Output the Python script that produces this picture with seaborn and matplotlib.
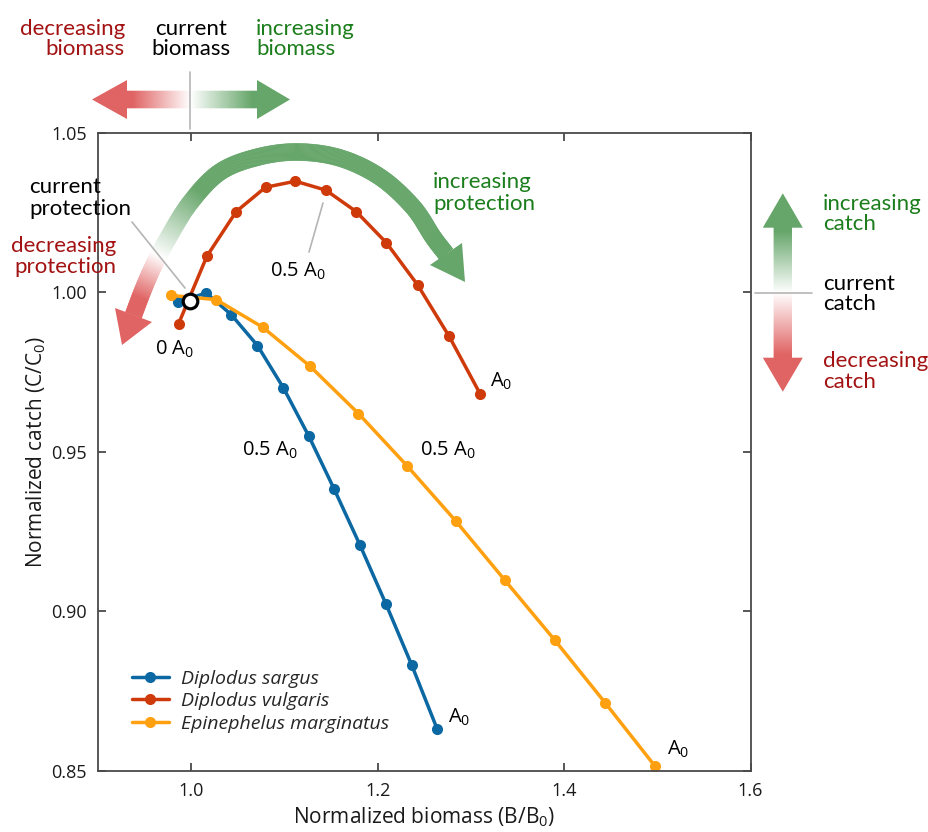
import numpy as np
import pandas as pd
import matplotlib
matplotlib.use("Agg")
import matplotlib.pyplot as plt
import seaborn as sns
from matplotlib.patches import Polygon
from matplotlib.collections import PolyCollection
from matplotlib.ticker import FormatStrFormatter

# ---------------- data ----------------
species = ["Diplodus sargus", "Diplodus vulgaris", "Epinephelus marginatus"]
palette = ["#0b68a2", "#cf3a0b", "#ffa010"]
protection = [0.0, 0.1, 0.2, 0.3, 0.4, 0.5, 0.6, 0.7, 0.8, 0.9, 1.0]

sargus_biomass = [0.9861, 1.0161, 1.0429, 1.0711, 1.0990, 1.1262, 1.1534, 1.1812, 1.2091, 1.2367, 1.2638]
sargus_catch = [0.9969, 0.9998, 0.9930, 0.9833, 0.9700, 0.9549, 0.9383, 0.9207, 0.9022, 0.8831, 0.8632]
vulgaris_biomass = [0.9864, 1.0168, 1.0483, 1.0797, 1.1118, 1.1444, 1.1769, 1.2094, 1.2429, 1.2767, 1.3099]
vulgaris_catch = [0.9901, 1.0113, 1.0253, 1.0329, 1.0348, 1.0320, 1.0253, 1.0155, 1.0023, 0.9862, 0.9682]
marginatus_biomass = [0.9788, 1.0268, 1.0769, 1.1276, 1.1794, 1.2313, 1.2839, 1.3367, 1.3903, 1.4440, 1.4976]
marginatus_catch = [0.9990, 0.9977, 0.9890, 0.9768, 0.9620, 0.9457, 0.9283, 0.9097, 0.8909, 0.8714, 0.8515]

current_biomass = [0.999]
current_catch = [0.9974]

x_ticks = [1.0, 1.2, 1.4, 1.6]
y_ticks = [0.85, 0.90, 0.95, 1.00, 1.05]

df = pd.DataFrame({
    "species": np.repeat(species, len(protection)),
    "protection": protection * 3,
    "biomass": sargus_biomass + vulgaris_biomass + marginatus_biomass,
    "catch": sargus_catch + vulgaris_catch + marginatus_catch,
})

# ---------------- style ----------------
sns.set_theme(style="ticks")
plt.rcParams["font.family"] = ["Open Sans", "DejaVu Sans"]
plt.rcParams["mathtext.fontset"] = "custom"
plt.rcParams["mathtext.rm"] = "Open Sans"
plt.rcParams["mathtext.it"] = "Open Sans:italic"
plt.rcParams["mathtext.bf"] = "Open Sans:bold"

W, H = 929, 832
fig = plt.figure(figsize=(W / 100, H / 100), dpi=100)
fig.patch.set_facecolor("white")

L, R, T, B = 98, 750.5, 132.7, 771
ax = fig.add_axes([L / W, 1 - B / H, (R - L) / W, (B - T) / H])

sns.lineplot(data=df, x="biomass", y="catch", hue="species", hue_order=species,
             palette=palette, sort=False, estimator=None, marker="o",
             markersize=8, markeredgewidth=0, linewidth=2.5, ax=ax)
ax.plot(current_biomass, current_catch, marker="o", markersize=10.5,
        markerfacecolor="white", markeredgecolor="black", markeredgewidth=2.3,
        linestyle="none", zorder=10)

ax.set_xlim(0.9, 1.6)
ax.set_ylim(0.85, 1.05)
ax.set_xticks(x_ticks)
ax.set_yticks(y_ticks)
ax.xaxis.set_major_formatter(FormatStrFormatter("%.1f"))
ax.yaxis.set_major_formatter(FormatStrFormatter("%.2f"))
spine_c = "#4a4a4a"
for s in ax.spines.values():
    s.set_visible(True)
    s.set_color(spine_c)
    s.set_linewidth(1.3)
ax.tick_params(direction="in", top=True, right=True, length=5.5, width=1.3,
               color=spine_c, labelcolor="#1a1a1a", labelsize=13, pad=8)
ax.set_xlabel("Normalized biomass (B/B$_0$)", fontsize=15, color="#1a1a1a", labelpad=4)
ax.set_ylabel("Normalized catch (C/C$_0$)", fontsize=15, color="#1a1a1a", labelpad=2)

handles, labels = ax.get_legend_handles_labels()
ax.legend(handles[:3], labels[:3], loc="upper left", bbox_to_anchor=(132 / W, 1 - 670 / H),
          bbox_transform=fig.transFigure, frameon=False, borderpad=0, borderaxespad=0,
          handlelength=1.9, handletextpad=0.62, labelspacing=0.22,
          prop={"family": "Open Sans", "style": "italic", "size": 14})

# ---------------- overlay (pixel coordinates) ----------------
ov = fig.add_axes([0, 0, 1, 1])
ov.set_xlim(0, W)
ov.set_ylim(H, 0)
ov.axis("off")
ov.patch.set_visible(False)

GREEN = np.array([102, 166, 106]) / 255.0
RED = np.array([224, 100, 100]) / 255.0
WHITE = np.ones(3)
TXT_GREEN = "#1b7d1b"
TXT_RED = "#a31212"
GRAY = "#b5b5b5"
ann_font = ["Lato", "DejaVu Sans"]
ann_size = 16


def txt(x, y, s, color="black", ha="left", size=ann_size, family=ann_font):
    ov.text(x, y, s, ha=ha, va="baseline", color=color, fontsize=size, family=family)


def grad_image(poly_pts, x0, x1, y0, y1, colfun, axis):
    poly = Polygon(poly_pts, closed=True, facecolor="none", edgecolor="none")
    ov.add_patch(poly)
    if axis == "x":
        xs = np.linspace(x0, x1, 400)
        img = np.array([colfun(v) for v in xs])[None, :, :]
    else:
        ys = np.linspace(y0, y1, 400)
        img = np.array([colfun(v) for v in ys])[:, None, :]
    im = ov.imshow(img, extent=(x0, x1, y1, y0), origin="upper", aspect="auto",
                   interpolation="bilinear")
    im.set_clip_path(poly)


def lerp(c1, c2, t):
    t = min(max(t, 0.0), 1.0)
    return c1 * (1 - t) + c2 * t


# top horizontal double arrow
cy = 99.5
harrow = [(92, cy), (127, cy - 19.5), (127, cy - 8.8), (257, cy - 8.8), (257, cy - 19.5),
          (290, cy), (257, cy + 19.5), (257, cy + 8.8), (127, cy + 8.8), (127, cy + 19.5)]


def hcol(x):
    if x < 190.5:
        return lerp(WHITE, RED, (190.5 - x) / 58.0)
    return lerp(WHITE, GREEN, (x - 190.5) / 62.0)


grad_image(harrow, 90, 292, 78, 121, hcol, "x")
ov.plot([190.5, 190.5], [72, 129], color=GRAY, lw=1.2)

# right vertical double arrow
cx = 782.8
varrow = [(cx, 193.3), (cx + 20, 227.7), (cx + 9.2, 227.7), (cx + 9.2, 357.7), (cx + 20, 357.7),
          (cx, 391.7), (cx - 20, 357.7), (cx - 9.2, 357.7), (cx - 9.2, 227.7), (cx - 20, 227.7)]


def vcol(y):
    if y < 292.7:
        return lerp(WHITE, GREEN, (292.7 - y) / 62.0)
    return lerp(WHITE, RED, (y - 292.7) / 62.0)


grad_image(varrow, 760, 806, 191, 394, vcol, "y")
ov.plot([755, 812], [292.7, 292.7], color=GRAY, lw=1.2)


# curved arrow (protection)
def catmull(pts, n=40):
    P = np.array(pts, float)
    P = np.vstack([2 * P[0] - P[1], P, 2 * P[-1] - P[-2]])
    out = []
    t = np.linspace(0, 1, n, endpoint=False)[:, None]
    for i in range(1, len(P) - 2):
        p0, p1, p2, p3 = P[i - 1], P[i], P[i + 1], P[i + 2]
        out.append(0.5 * ((2 * p1) + (-p0 + p2) * t + (2 * p0 - 5 * p1 + 4 * p2 - p3) * t ** 2
                          + (-p0 + 3 * p1 - 3 * p2 + p3) * t ** 3))
    out.append(P[-2][None, :])
    return np.vstack(out)


arc_pts = [(133.5, 315), (143, 290), (153, 267), (167, 240), (190, 203), (220, 172),
           (258, 157), (298, 152), (340, 158), (380, 177), (413, 207), (433, 237), (446, 254)]
C = catmull(arc_pts)
seg_len = np.hypot(np.diff(C[:, 0]), np.diff(C[:, 1]))
s = np.concatenate([[0], np.cumsum(seg_len)])

tang = np.gradient(C, axis=0)
tang /= np.hypot(tang[:, 0], tang[:, 1])[:, None]
nrm = np.stack([-tang[:, 1], tang[:, 0]], axis=1)
half_w = 8.5
E1 = C + nrm * half_w
E2 = C - nrm * half_w


def s_near(p):
    return s[np.argmin(np.hypot(C[:, 0] - p[0], C[:, 1] - p[1]))]


s_red, s_white, s_green = s_near((140, 297)), s_near((158, 255)), s_near((200, 193))


def acol(v):
    if v <= s_white:
        return lerp(RED, WHITE, (v - s_red) / (s_white - s_red))
    return lerp(WHITE, GREEN, (v - s_white) / (s_green - s_white))


quads = [[E1[i], E1[i + 1], E2[i + 1], E2[i]] for i in range(len(C) - 1)]
cols = [acol(0.5 * (s[i] + s[i + 1])) for i in range(len(C) - 1)]
pc = PolyCollection(quads, facecolors=cols, edgecolors=cols, linewidths=0.4)
ov.add_collection(pc)
ov.add_patch(Polygon([(465, 282), (430, 265), (462, 243)], closed=True,
                     facecolor=GREEN, edgecolor="none"))
ov.add_patch(Polygon([(122, 345), (115, 308), (152, 322)], closed=True,
                     facecolor=RED, edgecolor="none"))

# leader lines
ov.plot([132, 185], [222, 288], color=GRAY, lw=1.2)
ov.plot([309, 323], [252, 203], color=GRAY, lw=1.2)

# annotation texts
txt(125, 35, "decreasing", TXT_RED, "right")
txt(125, 55, "biomass", TXT_RED, "right")
txt(191, 35, "current", "black", "center")
txt(191, 55, "biomass", "black", "center")
txt(256, 35, "increasing", TXT_GREEN)
txt(256, 55, "biomass", TXT_GREEN)

txt(823, 210, "increasing", TXT_GREEN)
txt(823, 230, "catch", TXT_GREEN)
txt(823, 290, "current", "black")
txt(823, 310, "catch", "black")
txt(823, 367, "decreasing", TXT_RED)
txt(823, 388, "catch", TXT_RED)

txt(433, 188, "increasing", TXT_GREEN)
txt(433, 210, "protection", TXT_GREEN)
txt(29, 193, "current", "black")
txt(29, 215, "protection", "black")
txt(116, 252, "decreasing", TXT_RED, "right")
txt(116, 273, "protection", TXT_RED, "right")

lab_font = ["Open Sans", "DejaVu Sans"]
txt(270, 277, "0.5 A$_0$", "black", size=14.5, family=lab_font)
txt(155, 355, "0 A$_0$", "black", size=14.5, family=lab_font)
txt(490, 387, "A$_0$", "black", size=14.5, family=lab_font)
txt(242, 456, "0.5 A$_0$", "black", size=14.5, family=lab_font)
txt(420, 456, "0.5 A$_0$", "black", size=14.5, family=lab_font)
txt(448, 723, "A$_0$", "black", size=14.5, family=lab_font)
txt(667, 755, "A$_0$", "black", size=14.5, family=lab_font)

fig.savefig("out.png", dpi=100)
